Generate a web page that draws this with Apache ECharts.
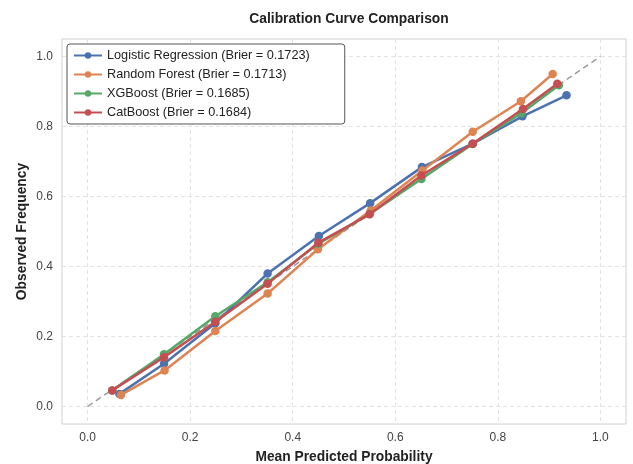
<!DOCTYPE html>
<html>
<head>
<meta charset="utf-8">
<script src="https://cdn.jsdelivr.net/npm/echarts@6/dist/echarts.min.js"></script>
<style>
html,body{margin:0;padding:0;background:#fff;}
#chart{width:633px;height:464px;}
</style>
</head>
<body>
<div id="chart"></div>
<script>
// Calibration bins: mean predicted probability (x) vs observed frequency (y)
const seriesNames = [
  'Logistic Regression (Brier = 0.1723)',
  'Random Forest (Brier = 0.1713)',
  'XGBoost (Brier = 0.1685)',
  'CatBoost (Brier = 0.1684)'
];
const lrX = [0.062, 0.149, 0.249, 0.351, 0.451, 0.551, 0.652, 0.751, 0.848, 0.934];
const lrY = [0.036, 0.122, 0.238, 0.380, 0.487, 0.581, 0.684, 0.751, 0.829, 0.889];
const rfX = [0.065, 0.150, 0.249, 0.351, 0.449, 0.552, 0.653, 0.751, 0.845, 0.907];
const rfY = [0.033, 0.103, 0.216, 0.323, 0.449, 0.560, 0.674, 0.785, 0.872, 0.950];
const xgbX = [0.048, 0.149, 0.249, 0.351, 0.450, 0.550, 0.651, 0.751, 0.846, 0.919];
const xgbY = [0.046, 0.149, 0.258, 0.355, 0.465, 0.550, 0.650, 0.750, 0.838, 0.918];
const cbX = [0.048, 0.149, 0.249, 0.351, 0.450, 0.550, 0.651, 0.751, 0.849, 0.916];
const cbY = [0.046, 0.141, 0.242, 0.351, 0.468, 0.549, 0.660, 0.751, 0.850, 0.922];
const perfectX = [0, 1];
const perfectY = [0, 1];
const tickValues = [0, 0.2, 0.4, 0.6, 0.8, 1.0];
const colors = ['#4c72b0', '#dd8452', '#55a868', '#c44e52'];

const zip = (xs, ys) => xs.map((x, i) => [x, ys[i]]);
const font = 'Liberation Sans, Arial, sans-serif';

const curves = [[lrX, lrY], [rfX, rfY], [xgbX, xgbY], [cbX, cbY]].map((d, i) => ({
  name: seriesNames[i],
  type: 'line',
  data: zip(d[0], d[1]),
  symbol: 'circle',
  symbolSize: 8.5,
  showSymbol: true,
  lineStyle: { width: 2.5, color: colors[i] },
  itemStyle: { color: colors[i] },
  z: 3 + i,
  animation: false
}));

const axisCommon = {
  type: 'value',
  min: -0.05,
  max: 1.05,
  axisLine: { show: false },
  axisTick: { show: false, customValues: tickValues },
  axisLabel: {
    customValues: tickValues,
    color: '#444',
    fontSize: 12,
    fontFamily: font,
    formatter: v => v.toFixed(1)
  },
  splitLine: { show: true, lineStyle: { color: '#e3e3e3', type: [4, 3], width: 1 } },
  nameLocation: 'middle',
  nameMoveOverlap: false,
  nameTextStyle: { fontWeight: 'bold', fontSize: 13.8, color: '#222', fontFamily: font }
};

const chart = echarts.init(document.getElementById('chart'), null, { renderer: 'canvas' });
chart.setOption({
  backgroundColor: '#fff',
  animation: false,
  title: {
    text: 'Calibration Curve Comparison',
    left: 344,
    textAlign: 'center',
    top: 7,
    textStyle: { fontSize: 13.8, fontWeight: 'bold', color: '#222', fontFamily: font }
  },
  grid: {
    left: 62, right: 7, top: 39, bottom: 40,
    outerBoundsMode: 'none',
    containLabel: false,
    show: true, borderColor: '#d0d0d0', borderWidth: 1
  },
  xAxis: Object.assign({}, axisCommon, {
    name: 'Mean Predicted Probability',
    nameGap: 26,
    axisLabel: Object.assign({}, axisCommon.axisLabel, { margin: 8 })
  }),
  yAxis: Object.assign({}, axisCommon, {
    name: 'Observed Frequency',
    nameGap: 33,
    axisLabel: Object.assign({}, axisCommon.axisLabel, { margin: 9 })
  }),
  legend: {
    orient: 'vertical',
    left: 67,
    top: 44,
    padding: [5, 35, 5, 6],
    itemGap: 6,
    itemWidth: 28,
    itemHeight: 8,
    backgroundColor: '#fff',
    borderColor: '#555',
    borderWidth: 1,
    borderRadius: 3,
    data: seriesNames,
    textStyle: { fontSize: 12.7, color: '#222', fontFamily: font }
  },
  series: [
    {
      name: 'Perfectly calibrated',
      type: 'line',
      data: zip(perfectX, perfectY),
      symbol: 'none',
      lineStyle: { color: '#9a9a9a', width: 1.5, type: [6, 4] },
      z: 2,
      silent: true
    }
  ].concat(curves)
});
</script>
</body>
</html>
